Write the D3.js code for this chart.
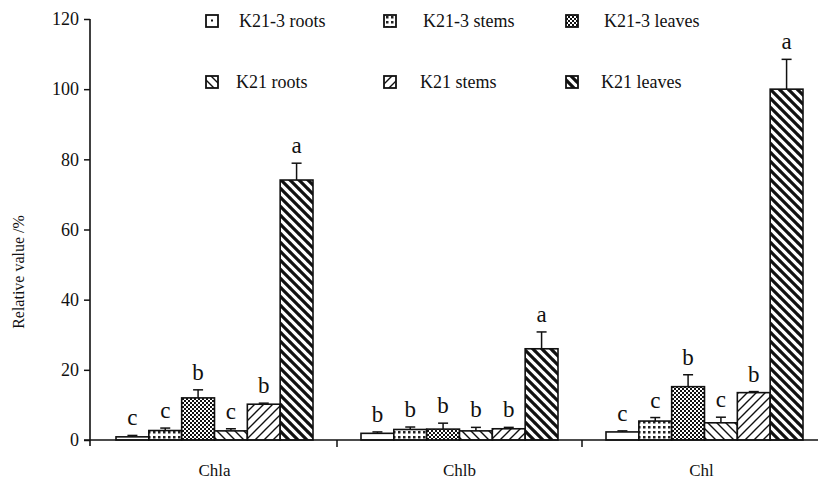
<!DOCTYPE html>
<html>
<head>
<meta charset="utf-8">
<script src="https://cdn.jsdelivr.net/npm/d3@7/dist/d3.min.js"></script>
<style>
body{margin:0;background:#fff;}
svg text{font-family:"Liberation Serif","DejaVu Serif",serif;fill:#111;}
</style>
</head>
<body>
<svg id="c" width="818" height="488"></svg>
<script>
const groups = ["Chla","Chlb","Chl"];
const seriesNames = ["K21-3 roots","K21-3 stems","K21-3 leaves","K21 roots","K21 stems","K21 leaves"];
const values = {
  "K21-3 roots":  [0.9, 1.9, 2.3],
  "K21-3 stems":  [2.7, 3.0, 5.4],
  "K21-3 leaves": [12.0, 3.1, 15.2],
  "K21 roots":    [2.6, 2.6, 4.9],
  "K21 stems":    [10.2, 3.2, 13.5],
  "K21 leaves":   [74.1, 26.0, 100.0]
};
const errors = {
  "K21-3 roots":  [0.4, 0.4, 0.3],
  "K21-3 stems":  [0.7, 0.7, 1.0],
  "K21-3 leaves": [2.3, 1.7, 3.4],
  "K21 roots":    [0.6, 1.0, 1.6],
  "K21 stems":    [0.3, 0.4, 0.3],
  "K21 leaves":   [4.8, 4.8, 8.5]
};
const letters = {
  "K21-3 roots":  ["c","b","c"],
  "K21-3 stems":  ["c","b","c"],
  "K21-3 leaves": ["b","b","b"],
  "K21 roots":    ["c","b","c"],
  "K21 stems":    ["b","b","b"],
  "K21 leaves":   ["a","a","a"]
};
const yTicks = [0,20,40,60,80,100,120];

const svg = d3.select("#c");
const defs = svg.append("defs");

function pat(id, size, build){
  const p = defs.append("pattern").attr("id",id).attr("patternUnits","userSpaceOnUse")
    .attr("width",size).attr("height",size);
  p.append("rect").attr("width",size).attr("height",size).attr("fill","#fff");
  build(p);
}
pat("p0",6,p=>{});
pat("p1",5,p=>{ p.append("rect").attr("x",1).attr("y",1).attr("width",2.5).attr("height",2.5).attr("fill","#222"); });
pat("p2",4,p=>{
  p.append("rect").attr("width",2).attr("height",2).attr("fill","#111");
  p.append("rect").attr("x",2).attr("y",2).attr("width",2).attr("height",2).attr("fill","#111");
});
pat("p3",9,p=>{
  p.append("path").attr("d","M0,0L9,9M-9,0L0,9M0,-9L9,0M9,0L18,9M0,9L9,18").attr("stroke","#111").attr("stroke-width",1.4);
});
pat("p4",9,p=>{
  p.append("path").attr("d","M0,9L9,0M-9,9L0,0M0,18L9,9M9,9L18,0M0,0L9,-9").attr("stroke","#111").attr("stroke-width",1.4);
});
pat("p5",9,p=>{
  p.append("path").attr("d","M0,0L9,9M-9,0L0,9M0,-9L9,0M9,0L18,9M0,9L9,18").attr("stroke","#111").attr("stroke-width",3.2);
});
const fills = ["url(#p0)","url(#p1)","url(#p2)","url(#p3)","url(#p4)","url(#p5)"];

const y = d3.scaleLinear().domain([0,120]).range([440,19]);
const x0 = d3.scaleBand().domain(groups).range([92,827]).paddingInner(0).paddingOuter(0);
const x1 = d3.scaleBand().domain(seriesNames).range([24,221]).padding(0);

groups.forEach((g,gi)=>{
  const gg = svg.append("g").attr("transform",`translate(${x0(g)},0)`);
  seriesNames.forEach((s,si)=>{
    const v = values[s][gi], e = errors[s][gi];
    const bx = x1(s), bw = x1.bandwidth(), cx = bx + bw/2;
    gg.append("line").attr("x1",cx).attr("x2",cx).attr("y1",y(v)).attr("y2",y(v+e))
      .attr("stroke","#111").attr("stroke-width",1.5);
    gg.append("line").attr("x1",cx-5).attr("x2",cx+5).attr("y1",y(v+e)).attr("y2",y(v+e))
      .attr("stroke","#111").attr("stroke-width",1.5);
    gg.append("rect").attr("x",bx).attr("y",y(v)).attr("width",bw).attr("height",y(0)-y(v))
      .attr("fill",fills[si]).attr("stroke","#111").attr("stroke-width",1.6);
    gg.append("text").attr("x",cx).attr("y",y(v+e)-10).attr("text-anchor","middle")
      .attr("font-size",23).text(letters[s][gi]);
  });
});

const ya = svg.append("g").attr("transform","translate(90,0)")
  .call(d3.axisLeft(y).tickValues(yTicks).tickSize(6).tickSizeOuter(0).tickPadding(5));
ya.select(".domain").remove();
ya.selectAll(".tick line").attr("stroke","#111").attr("stroke-width",1.5);
ya.selectAll(".tick text").attr("font-size",18).style("font-family","Liberation Serif").attr("fill","#111");
svg.append("line").attr("x1",90).attr("x2",90).attr("y1",y(120)).attr("y2",y(0)+6)
  .attr("stroke","#111").attr("stroke-width",1.6);

svg.append("line").attr("x1",84).attr("x2",818).attr("y1",y(0)).attr("y2",y(0))
  .attr("stroke","#111").attr("stroke-width",1.6);
groups.slice(1).forEach(g=>{
  svg.append("line").attr("x1",x0(g)).attr("x2",x0(g)).attr("y1",y(0)).attr("y2",y(0)+7)
    .attr("stroke","#111").attr("stroke-width",1.5);
});
groups.forEach(g=>{
  svg.append("text").attr("x",x0(g)+x0.bandwidth()/2 - (g==="Chl"?3:0)).attr("y",y(0)+36)
    .attr("text-anchor","middle").attr("font-size",17).text(g);
});

svg.append("text").attr("transform","translate(24,272) rotate(-90)").attr("text-anchor","middle")
  .attr("font-size",16).text("Relative value /%");

const legX = [[206,239],[384,423],[566,604]];
const legY = [21,82];
seriesNames.forEach((s,i)=>{
  const r = Math.floor(i/3), c = i%3;
  const lx = legX[c][0], ly = legY[r];
  svg.append("rect").attr("x",lx).attr("y",ly-6).attr("width",12).attr("height",12)
    .attr("fill",fills[i]).attr("stroke","#111").attr("stroke-width",1.8);
  if(i===0) svg.append("rect").attr("x",lx+5).attr("y",ly-1.5).attr("width",2).attr("height",2).attr("fill","#111");
  svg.append("text").attr("x", r===0 ? legX[c][1] : legX[c][1]-3).attr("y",ly+6)
    .attr("font-size",18).text(s);
});
</script>
</body>
</html>
